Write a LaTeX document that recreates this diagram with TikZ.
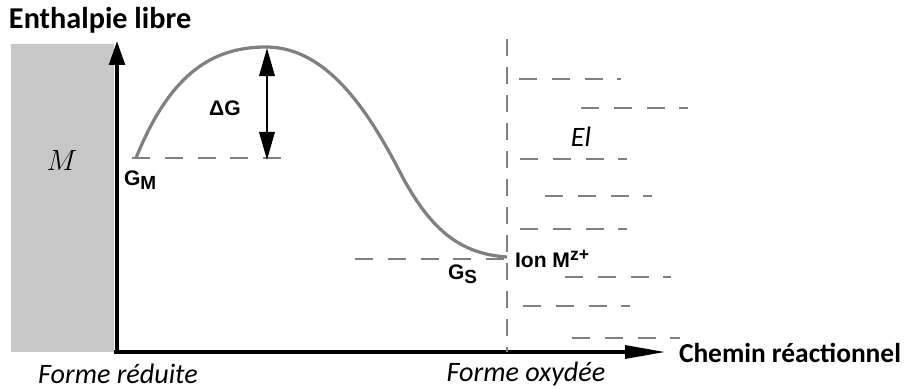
\documentclass[tikz,border=0pt]{standalone}
\usepackage{fontspec}
\setmainfont{Carlito}
\newfontfamily\arialfont{Liberation Sans}
\usetikzlibrary{positioning, calc, arrows.meta}

\begin{document}
\begin{tikzpicture}[
    x=0.025cm, y=-0.025cm,
    every node/.style={inner sep=0pt, outer sep=0pt},
    axislabel/.style={font=\fontsize{19.5}{21}\selectfont\bfseries},
    formlabel/.style={font=\fontsize{20}{22}\selectfont\itshape},
    levellabel/.style={font=\arialfont\fontsize{15}{17}\selectfont\bfseries},
    metal/.style={fill=black!22, draw=none},
    axis/.style={line width=2.8pt},
    level/.style={draw=gray, line width=0.9pt, dash pattern=on 0.45cm off 0.37cm},
    interface/.style={draw=gray, line width=0.9pt, dash pattern=on 0.42cm off 0.28cm},
    curve/.style={draw=gray, line width=2.3pt},
    arrow/.style={<->, line width=1.6pt, >={Triangle[length=20pt, width=11pt]}}
]
\useasboundingbox (0,0) rectangle (904,389);
% metal block and axes
\fill[metal] (11,44) rectangle (114,352);
\coordinate (origin) at (117,352);
\coordinate (ytop) at (117,41);
\coordinate (xend) at (666,352);
\draw[axis, -{Triangle[length=17pt, width=11pt]}] ($(origin)+(0,1.5)$) -- (ytop);
\draw[axis, -{Triangle[length=29pt, width=9pt]}] ($(origin)+(-3,0)$) -- (xend);
\node[axislabel, font=\fontsize{21.5}{23}\selectfont\bfseries, anchor=west] (yname) at (9,20) {Enthalpie libre};
\node[axislabel, anchor=west] (xname) at (679,353) {Chemin réactionnel};
\node[formlabel] (reduite) at (118,374) {Forme réduite};
\node[formlabel] (oxydee) at (526,374) {Forme oxydée};
\node[font=\fontsize{20}{22}\selectfont] (metal_name) at (62,161) {$M$};
\node[formlabel] (electrolyte) at (581,137) {El};
% energy profile
\coordinate (gm_pt) at (136,158);
\coordinate (peak) at (266,47);
\coordinate (bend) at (402,176);
\coordinate (gs_pt) at (507,257);
\draw[curve] (gm_pt) .. controls (170,74) and (212,47) .. (peak)
    .. controls (330,47) and (372,118) .. (bend)
    .. controls (432,232) and (462,254) .. (gs_pt);
\coordinate (gm_lvl_a) at (132,158);
\coordinate (gm_lvl_b) at (290,158);
\coordinate (gs_lvl_a) at (355,259);
\coordinate (gs_lvl_b) at (505,259);
\draw[level] (gm_lvl_a) -- (gm_lvl_b);
\draw[level] (gs_lvl_a) -- (gs_lvl_b);
\coordinate (dg_top) at (267,48);
\coordinate (dg_bot) at (267,160);
\draw[arrow] (dg_top) -- (dg_bot);
\node[levellabel] (dg) at (225,108) {ΔG};
\node[levellabel, anchor=west] (gm) at (124,180) {G\raisebox{-0.35ex}{\fontsize{13.5}{15}\selectfont M}};
\node[levellabel, anchor=west] (gs) at (448,274) {G\raisebox{-0.35ex}{\fontsize{13.5}{15}\selectfont S}};
\node[levellabel, anchor=west] (ion) at (515,259) {Ion M\raisebox{0.55ex}{\fontsize{12.5}{14}\selectfont z+}};
% interface and electrolyte
\coordinate (int_top) at (507,39);
\coordinate (int_bot) at (507,352);
\draw[interface] (int_top) -- (int_bot);
\foreach \ya/\xa/\xb in {79/519/621, 108/581/688, 159/520/627, 196/545/652,
    229/520/627, 277/565/671, 306/523/630, 338/572/680}
    \draw[level] (\xa,\ya) -- (\xb,\ya);
\end{tikzpicture}
\end{document}
